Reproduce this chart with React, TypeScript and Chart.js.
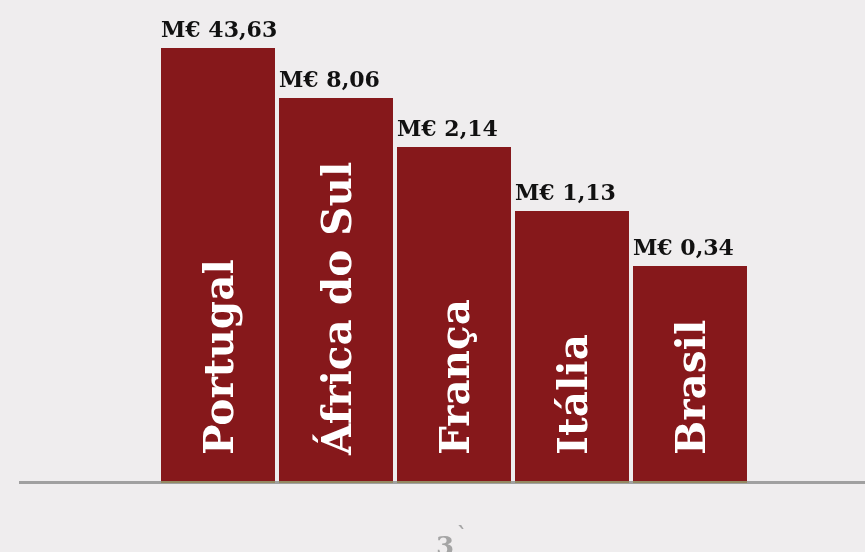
import React, { useEffect, useRef } from "react";
import { Chart, registerables } from "chart.js";

Chart.register(...registerables);

const categories = ["Portugal", "África do Sul", "França", "Itália", "Brasil"];
const values = [43.63, 8.06, 2.14, 1.13, 0.34];
// displayed bar heights (the picture is not to scale with the values)
const barHeights = [435, 385, 336, 272, 217];
const currencyPrefix = "M€";
const footerText = "3";

const BG = "#efedee";
const BAR = "#86181b";

function fmt(v: number) {
  return `${currencyPrefix} ${v.toFixed(2).replace(".", ",")}`;
}

const labelPlugin = {
  id: "customLabels",
  beforeDatasetsDraw(chart: any) {
    const ctx = chart.ctx;
    const y = chart.scales.y.getPixelForValue(0);
    ctx.save();
    ctx.fillStyle = "#a0a0a0";
    ctx.fillRect(19, y - 2, 846, 3);
    ctx.restore();
  },
  afterDatasetsDraw(chart: any) {
    const ctx = chart.ctx;
    const meta = chart.getDatasetMeta(0);
    const base = chart.scales.y.getPixelForValue(0);
    ctx.save();
    meta.data.forEach((bar: any, i: number) => {
      const w = bar.width;
      const left = bar.x - w / 2;
      // olive strip at bar bottom
      ctx.fillStyle = "#948a63";
      ctx.fillRect(left, base - 2, w, 2);
      // value label
      ctx.fillStyle = "#111111";
      ctx.font = "bold 22px 'DejaVu Serif'";
      ctx.textAlign = "left";
      ctx.textBaseline = "alphabetic";
      ctx.fillText(fmt(values[i]), left, bar.y - 11);
      // category label rotated
      ctx.save();
      ctx.translate(bar.x, base - 28);
      ctx.rotate(-Math.PI / 2);
      ctx.fillStyle = "#ffffff";
      ctx.font = "bold 40.5px 'DejaVu Serif'";
      ctx.textAlign = "left";
      ctx.fillText(categories[i], 0, 15);
      ctx.restore();
    });
    // footer
    ctx.fillStyle = "#a5a5a5";
    ctx.font = "bold 26px 'DejaVu Serif'";
    ctx.textAlign = "left";
    ctx.fillText(footerText, 436, 555);
    ctx.font = "bold 20px 'DejaVu Serif'";
    ctx.fillText("`", 457, 542);
    ctx.restore();
  },
};

export default function App() {
  const ref = useRef<HTMLCanvasElement>(null);
  useEffect(() => {
    if (!ref.current) return;
    const chart = new Chart(ref.current, {
      type: "bar",
      data: {
        labels: categories,
        datasets: [
          {
            data: barHeights,
            backgroundColor: BAR,
            borderWidth: 0,
            barPercentage: 1,
            categoryPercentage: 0.966,
          },
        ],
      },
      options: {
        animation: false,
        responsive: true,
        maintainAspectRatio: false,
        layout: { padding: { left: 159, right: 116, top: 0, bottom: 69 } },
        plugins: { legend: { display: false }, tooltip: { enabled: false } },
        scales: {
          x: { display: false },
          y: { display: false, min: 0, max: 483 },
        },
      },
      plugins: [labelPlugin],
    });
    return () => chart.destroy();
  }, []);
  return (
    <div
      style={{
        position: "fixed",
        left: 0,
        top: 0,
        width: 865,
        height: 552,
        background: BG,
      }}
    >
      <canvas ref={ref} />
    </div>
  );
}
